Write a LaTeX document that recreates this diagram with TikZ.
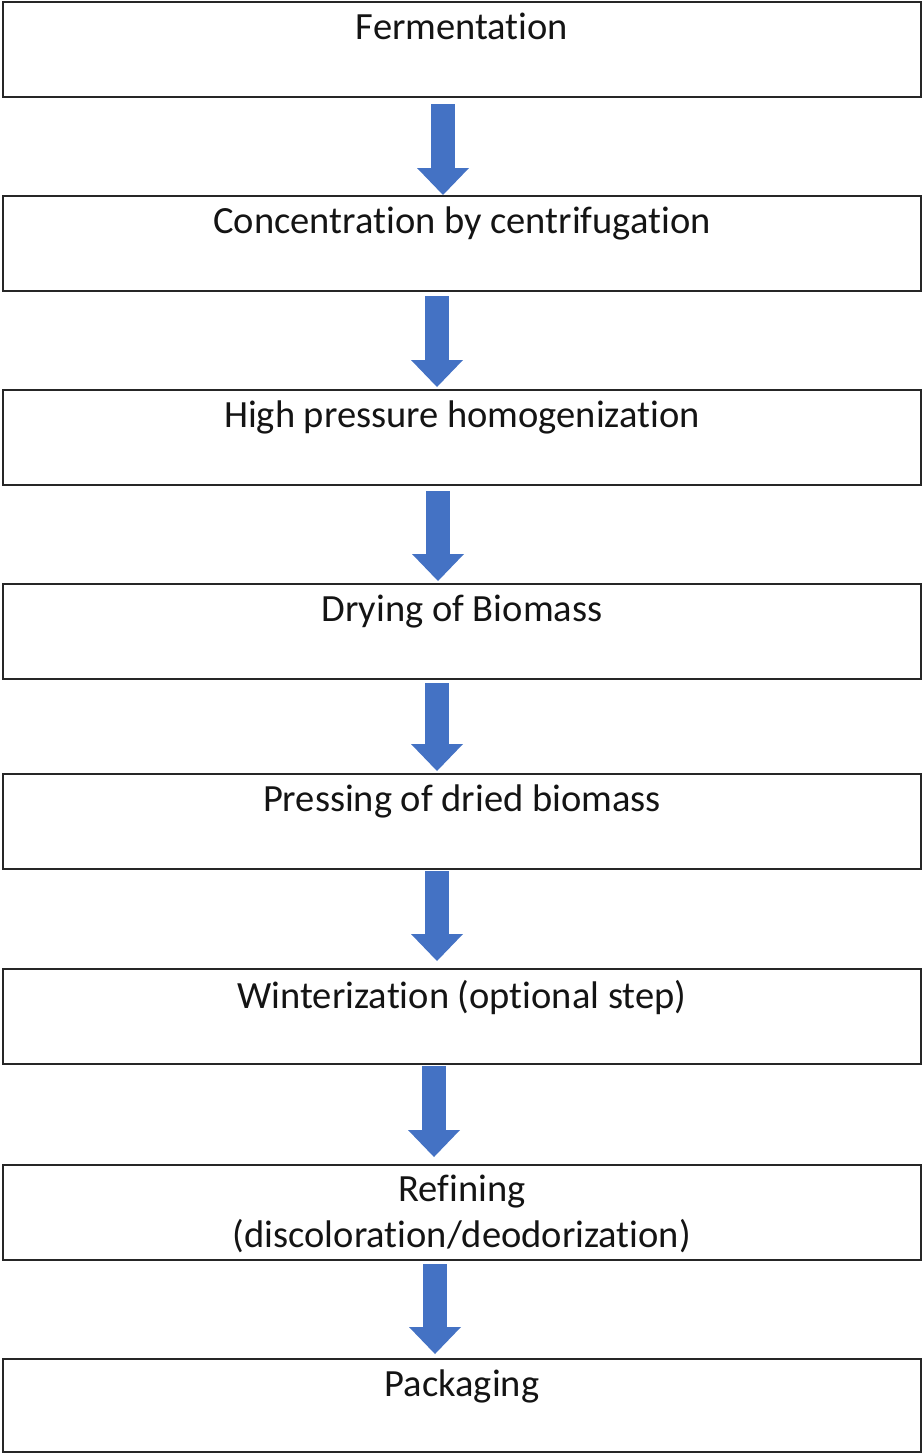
\documentclass[tikz,border=0pt]{standalone}
\usepackage{fontspec}
\setmainfont{Carlito}[Ligatures=NoCommon]
\usepackage{tikz}
\usetikzlibrary{positioning, arrows.meta}
\definecolor{ArrowBlue}{HTML}{4472C4}
\definecolor{BoxLine}{HTML}{262626}
\definecolor{TextDark}{HTML}{141414}

\begin{document}
\begin{tikzpicture}[
    stepbox/.style={draw=BoxLine, line width=1.5pt, minimum width=918pt, minimum height=95pt, inner sep=0pt, outer sep=0pt},
    steptext/.style={inner sep=0pt, align=center, text=TextDark, font=\fontsize{38.5}{46}\selectfont},
    flow/.style={line width=24pt, color=ArrowBlue, -{Triangle[length=27pt, width=52pt, line width=0pt]}}
]
\useasboundingbox (0,0) rectangle (922pt,-1454pt);

% process steps
\node[stepbox] (s1) at (462pt,-49.5pt) {};
\node[stepbox, below=99pt of s1] (s2) {};
\node[stepbox, below=99pt of s2] (s3) {};
\node[stepbox, below=99pt of s3] (s4) {};
\node[stepbox, below=95pt of s4] (s5) {};
\node[stepbox, below=100pt of s5] (s6) {};
\node[stepbox, below=101pt of s6] (s7) {};
\node[stepbox, below=99pt of s7, minimum height=93pt] (s8) {};

\node[steptext, below=11pt of s1.north] (t1) {Fermentation};
\node[steptext, below=11pt of s2.north] (t2) {Concentration by centrifugation};
\node[steptext, below=11pt of s3.north] (t3) {High pressure homogenization};
\node[steptext, below=11pt of s4.north] (t4) {Drying of Biomass};
\node[steptext, below=11pt of s5.north] (t5) {Pressing of dried biomass};
\node[steptext, below=11pt of s6.north] (t6) {Winterization (optional step)};
\node[steptext, below=10pt of s7.north] (t7) {Refining\\(discoloration/deodorization)};
\node[steptext, below=11pt of s8.north] (t8) {Packaging};

% arrows between steps
\draw[flow] ([xshift=-19pt,yshift=-7pt]s1.south) -- ([xshift=-19pt,yshift=1pt]s2.north);
\draw[flow] ([xshift=-25pt,yshift=-5pt]s2.south) -- ([xshift=-25pt,yshift=3pt]s3.north);
\draw[flow] ([xshift=-24pt,yshift=-6pt]s3.south) -- ([xshift=-24pt,yshift=3pt]s4.north);
\draw[flow] ([xshift=-25pt,yshift=-4pt]s4.south) -- ([xshift=-25pt,yshift=3pt]s5.north);
\draw[flow] ([xshift=-25pt,yshift=-2pt]s5.south) -- ([xshift=-25pt,yshift=8pt]s6.north);
\draw[flow] ([xshift=-28pt,yshift=-2pt]s6.south) -- ([xshift=-28pt,yshift=8pt]s7.north);
\draw[flow] ([xshift=-27pt,yshift=-4pt]s7.south) -- ([xshift=-27pt,yshift=5pt]s8.north);

\end{tikzpicture}
\end{document}
